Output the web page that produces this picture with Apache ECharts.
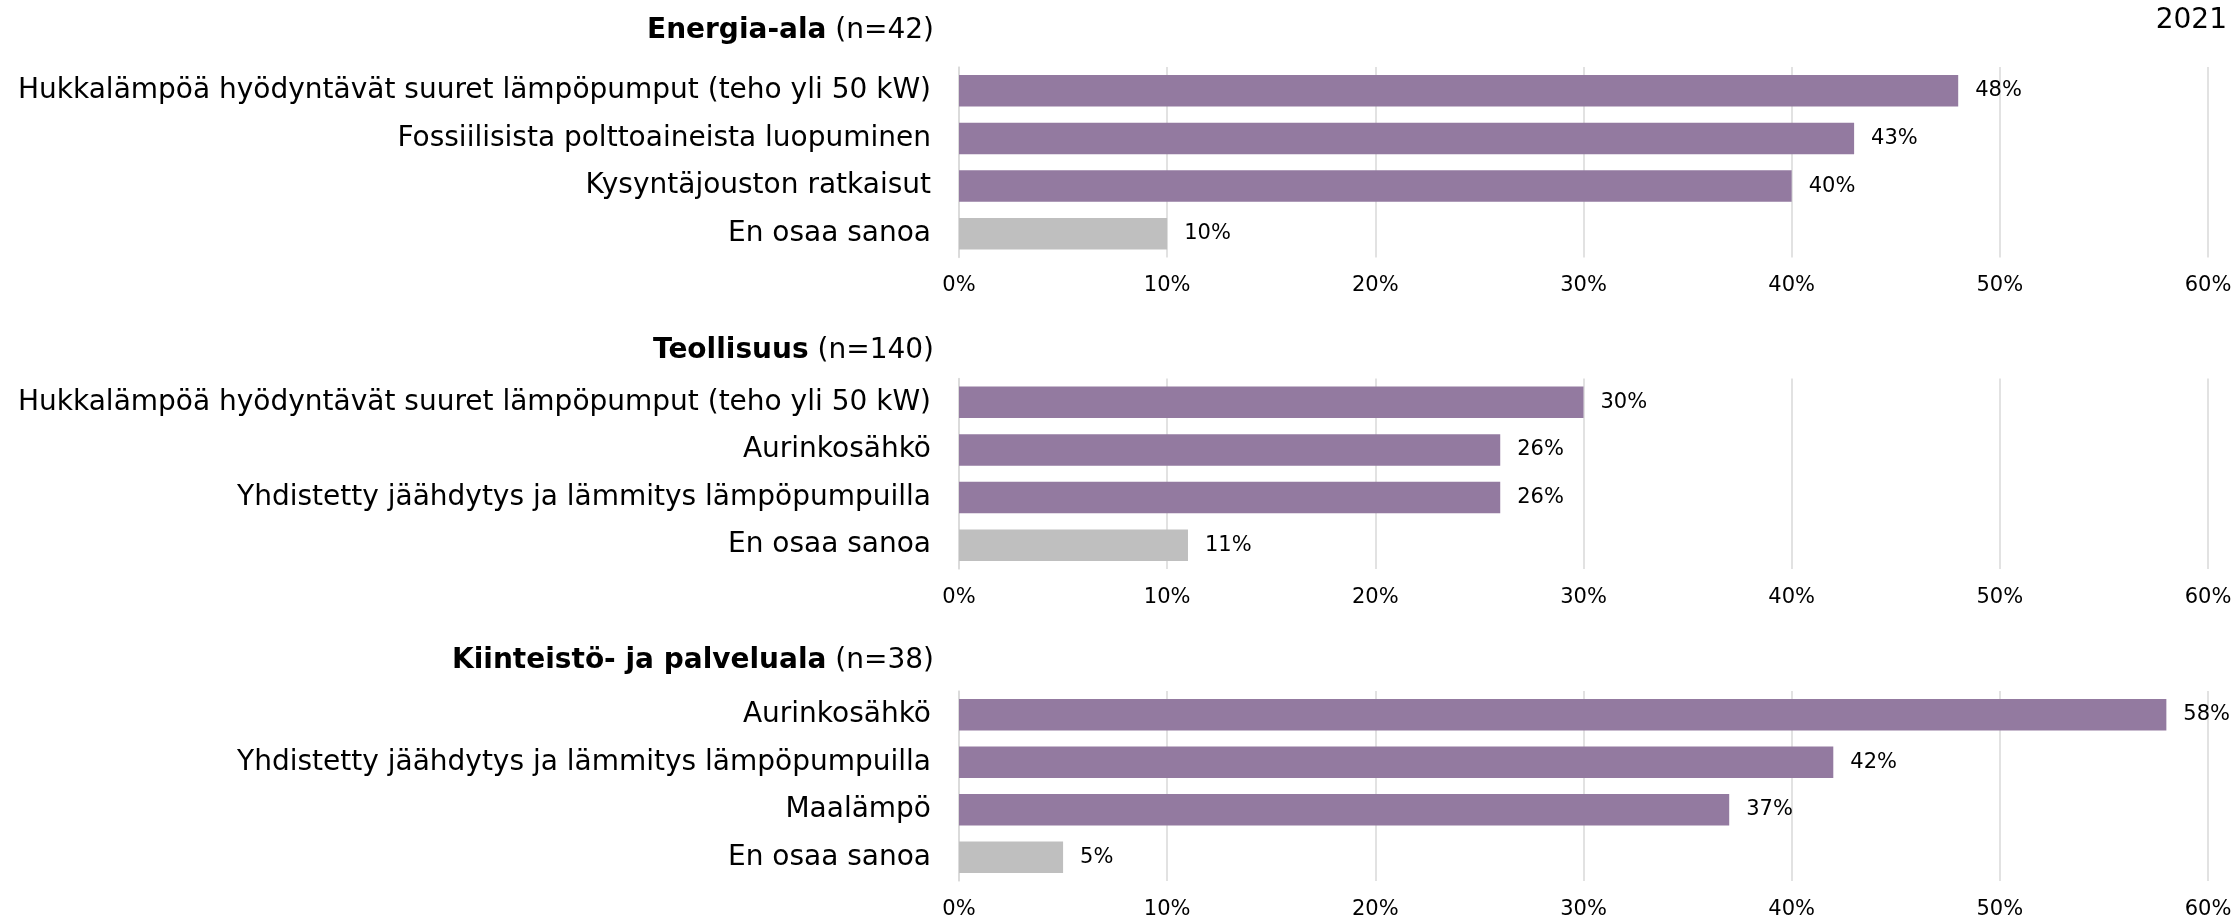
<!DOCTYPE html>
<html>
<head>
<meta charset="utf-8">
<title>Energia-ala, Teollisuus, Kiinteistö- ja palveluala 2021</title>
<script src="https://cdn.jsdelivr.net/npm/echarts@6/dist/echarts.min.js"></script>
<style>
  html, body { margin: 0; padding: 0; background: #fff; }
  #chart { width: 2236px; height: 920px; }
</style>
</head>
<body>
<div id="chart"></div>
<script>
// otsikot ja vastaajamäärät
const sectorNames = ['Energia-ala', 'Teollisuus', 'Kiinteistö- ja palveluala']
const sampleSizes = [42, 140, 38]
const yearLabel = '2021'

// Energia-ala
const energyCats = [
  'Hukkalämpöä hyödyntävät suuret lämpöpumput (teho yli 50 kW)',
  'Fossiilisista polttoaineista luopuminen',
  'Kysyntäjouston ratkaisut',
  'En osaa sanoa'
]
const energyVals = [48, 43, 40, 10]

// Teollisuus
const industryCats = [
  'Hukkalämpöä hyödyntävät suuret lämpöpumput (teho yli 50 kW)',
  'Aurinkosähkö',
  'Yhdistetty jäähdytys ja lämmitys lämpöpumpuilla',
  'En osaa sanoa'
]
const industryVals = [30, 26, 26, 11]

// Kiinteistö- ja palveluala
const propertyCats = [
  'Aurinkosähkö',
  'Yhdistetty jäähdytys ja lämmitys lämpöpumpuilla',
  'Maalämpö',
  'En osaa sanoa'
]
const propertyVals = [58, 42, 37, 5]

const FONT = 'DejaVu Sans'
const PURPLE = '#937aa0'
const GREY = '#bfbfbf'
const LINE = '#d9d9d9'

const blocks = [
  { cats: energyCats, vals: energyVals, gridTop: 67, titleMid: 31 },
  { cats: industryCats, vals: industryVals, gridTop: 378.5, titleMid: 351 },
  { cats: propertyCats, vals: propertyVals, gridTop: 691, titleMid: 661 }
]

const grids = []
const xAxes = []
const yAxes = []
const series = []
const titles = []

blocks.forEach(function (b, i) {
  grids.push({ left: 959, width: 1249, top: b.gridTop, height: 190.5 })
  xAxes.push({
    type: 'value',
    gridIndex: i,
    min: 0,
    max: 60,
    interval: 10,
    axisLine: { show: false },
    axisTick: { show: false },
    splitLine: { lineStyle: { color: LINE, width: 1.5 } },
    axisLabel: { formatter: '{value}%', color: '#000', fontFamily: FONT, fontSize: 21, margin: 18 }
  })
  yAxes.push({
    type: 'category',
    gridIndex: i,
    inverse: true,
    data: b.cats,
    axisLine: { show: true, onZero: false, lineStyle: { color: LINE, width: 1.5 } },
    axisTick: { length: 9, lineStyle: { color: LINE, width: 1.5 } },
    axisLabel: { color: '#000', fontFamily: FONT, fontSize: 28, margin: 28 }
  })
  series.push({
    type: 'bar',
    xAxisIndex: i,
    yAxisIndex: i,
    barCategoryGap: '34%',
    data: b.vals.map(function (v, j) {
      return {
        value: v,
        itemStyle: { color: b.cats[j] === 'En osaa sanoa' ? GREY : PURPLE }
      }
    }),
    label: {
      show: true,
      position: 'right',
      distance: 17,
      formatter: '{c}%',
      color: '#000',
      fontFamily: FONT,
      fontSize: 21
    },
    silent: true
  })
  // otsikko: toimiala lihavoituna, vastaajamäärä normaalina
  titles.push({
    text: '{b|' + sectorNames[i] + '}{n| (n=' + sampleSizes[i] + ')}',
    right: 1302,
    top: b.titleMid - 17,
    padding: 0,
    textStyle: {
      fontWeight: 'normal',
      rich: {
        b: { fontFamily: FONT, fontSize: 28, fontWeight: 'bold', color: '#000', lineHeight: 34 },
        n: { fontFamily: FONT, fontSize: 28, fontWeight: 'normal', color: '#000', lineHeight: 34 }
      }
    }
  })
})

titles.push({
  text: yearLabel,
  right: 9,
  top: 4,
  padding: 0,
  textStyle: { fontFamily: FONT, fontSize: 28, fontWeight: 'normal', color: '#000', lineHeight: 34 }
})

const myChart = echarts.init(document.getElementById('chart'))
myChart.setOption({
  animation: false,
  title: titles,
  grid: grids,
  xAxis: xAxes,
  yAxis: yAxes,
  series: series
})
</script>
</body>
</html>
